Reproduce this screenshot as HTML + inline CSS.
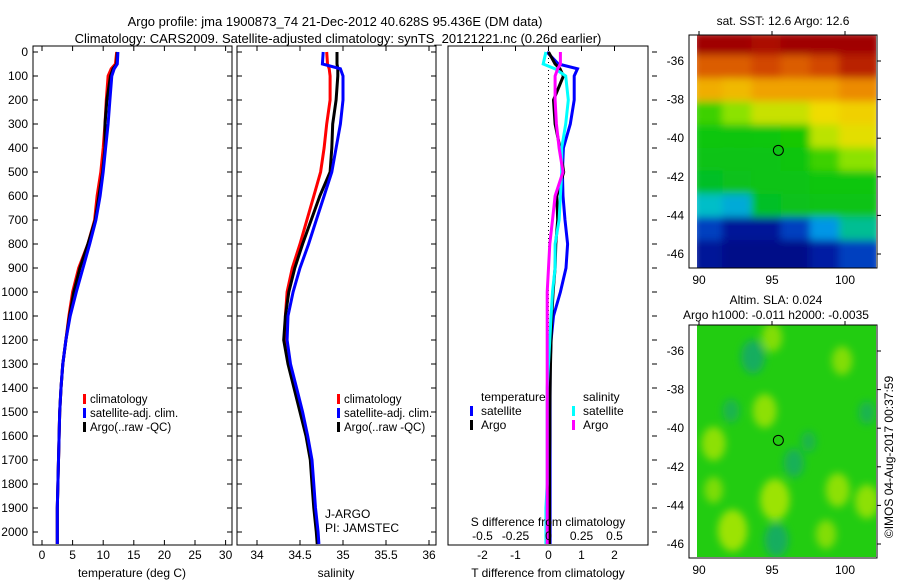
<!DOCTYPE html>
<html><head><meta charset="utf-8"><style>
body{margin:0;background:#fff}
svg{display:block;font-family:"Liberation Sans",sans-serif}
text{fill:#000}
</style></head><body>
<svg id="fig" width="900" height="580" viewBox="0 0 900 580">
<defs>
<clipPath id="c1"><rect x="697" y="35" width="179" height="233"/></clipPath>
<clipPath id="c2"><rect x="697" y="325" width="179" height="232"/></clipPath>
<filter id="bl" x="-10%" y="-10%" width="120%" height="120%"><feGaussianBlur stdDeviation="4"/></filter>
<filter id="bl2" x="-50%" y="-50%" width="200%" height="200%"><feGaussianBlur stdDeviation="4"/></filter>
</defs>
<text x="335" y="26" font-size="13" text-anchor="middle">Argo profile: jma 1900873_74 21-Dec-2012 40.628S 95.436E (DM data)</text>
<text x="338" y="43" font-size="13" text-anchor="middle">Climatology: CARS2009. Satellite-adjusted climatology: synTS_20121221.nc (0.26d earlier)</text>
<g id="root"></g>
</svg>
<script>
const depths=[0,50,70,100,200,300,400,500,600,700,800,900,1000,1100,1200,1300,1400,1500,1600,1700,1800,1900,2000,2050];
const tClim=[12.2,12.0,11.3,10.8,10.5,10.3,10.0,9.6,9.0,8.6,7.5,6.0,5.0,4.4,3.9,3.4,3.1,2.9,2.8,2.7,2.6,2.5,2.5,2.5];
const tSat=[12.4,12.3,11.8,11.4,11.1,10.8,10.4,10.0,9.5,8.8,7.8,6.7,5.6,4.6,3.9,3.4,3.1,2.9,2.8,2.7,2.6,2.5,2.5,2.5];
const tArgo=[12.3,12.2,11.6,11.2,10.6,10.3,10.3,9.9,9.3,8.7,7.5,6.2,5.2,4.5,3.9,3.4,3.1,2.9,2.8,2.7,2.6,2.5,2.5,2.5];
const sClim=[34.81,34.82,34.84,34.85,34.85,34.81,34.78,34.74,34.66,34.58,34.50,34.41,34.35,34.33,34.34,34.38,34.45,34.52,34.58,34.63,34.65,34.67,34.70,34.71];
const sSat=[34.77,34.76,34.97,35.00,35.00,34.97,34.92,34.87,34.78,34.69,34.60,34.50,34.42,34.36,34.35,34.39,34.46,34.53,34.59,34.64,34.66,34.68,34.71,34.72];
const sArgo=[34.93,34.93,34.94,34.94,34.92,34.88,34.87,34.85,34.73,34.63,34.53,34.44,34.37,34.33,34.31,34.36,34.43,34.50,34.57,34.62,34.64,34.66,34.69,34.70];
const dTsat=[-0.05,0.3,0.88,0.78,0.78,0.66,0.45,0.42,0.44,0.5,0.58,0.53,0.36,0.15,0.08,0.05,0.05,0.05,0.05,0.05,0.05,0.05,0.05,0.05];
const dTargo=[0.0,0.2,0.35,0.45,0.15,0.2,0.35,0.46,0.25,0.28,0.22,0.2,0.14,0.1,0.08,0.06,0.05,0.04,0.04,0.03,0.03,0.03,0.03,0.03];
const dSsat=[-0.02,-0.04,0.05,0.13,0.15,0.13,0.10,0.10,0.09,0.08,0.05,0.05,0.03,0.02,0.01,0.0,-0.01,-0.01,-0.01,-0.01,-0.01,-0.02,-0.02,-0.02];
const dSargo=[0.09,0.09,0.07,0.05,0.05,0.06,0.08,0.11,0.05,0.03,0.01,0.0,-0.01,-0.01,-0.01,-0.01,-0.01,-0.01,-0.01,-0.01,-0.01,-0.01,-0.01,-0.01];
const depthTicks=[0,100,200,300,400,500,600,700,800,900,1000,1100,1200,1300,1400,1500,1600,1700,1800,1900,2000];
const tTicks=[0,5,10,15,20,25,30];
const sTicks=[34,34.5,35,35.5,36];
const dTTicks=[-2,-1,0,1,2];
const dSTicks=[-0.5,-0.25,0,0.25,0.5];
const dSLabels=["-0.5","-0.25","0","0.25","0.5"];
const lonTicks=[90,95,100];
const latTicks=[-36,-38,-40,-42,-44,-46];
const sstLats=[-35.4,-36.6,-37.8,-39,-40.2,-41.4,-42.6,-43.8,-45,-46.2];
const sstLons=[91,93,95,97,99,101];
const sstVals=[[16,16,15.8,16,16,16],[15,15,15.2,15,15.2,15.6],[14.3,14.2,14.4,14.4,14.4,14.6],[12.8,13.2,13.6,13.6,13.9,14],[12.3,12.2,12.4,12.6,13.5,13.8],[12,12,12,12.2,12.8,13.2],[11.5,11.8,12,12,12.3,12.4],[10.8,10.5,11.5,11.8,12,12],[9.5,8.8,8.8,9.5,10.2,11],[8.8,8.5,8.5,8.5,9,9.5]];
const slaBlobLon=[93.7,91,94.5,95.2,92.3,95.3,96.5,99.5,101.5,101.5,99.8,98.7,92.2,97.5,91,95];
const slaBlobLat=[-36.3,-40.8,-39.1,-43.7,-45.3,-45.8,-41.8,-43.2,-39.2,-43.8,-36.5,-45.5,-39.1,-40.7,-43.2,-35.3];
const slaBlobVal=[-1,1,1,1.3,1.3,-1,-0.8,1,-0.6,1,0.8,0.8,-0.6,-0.5,0.7,0.8];
const argoLon=95.436, argoLat=-40.628;

const NS='http://www.w3.org/2000/svg';
const root=document.getElementById('root');
function mk(tag,attrs,parent){const e=document.createElementNS(NS,tag);for(const k in attrs)e.setAttribute(k,attrs[k]);(parent||root).appendChild(e);return e;}
function txt(x,y,s,anchor,size,parent){const t=mk('text',{x:x,y:y,'font-size':size||12,'text-anchor':anchor||'middle'},parent);t.textContent=s;return t;}
const Y0=52,PY=0.24;
const yD=d=>Y0+d*PY;
const PTOP=46,PBOT=545;
function frame(x0,x1,name){const r=mk('rect',{x:x0,y:PTOP,width:x1-x0,height:PBOT-PTOP,fill:'none',stroke:'#000','stroke-width':1});


depthTicks.forEach(d=>{mk('line',{x1:x0,x2:x0+5,y1:yD(d),y2:yD(d),stroke:'#000'});mk('line',{x1:x1-5,x2:x1,y1:yD(d),y2:yD(d),stroke:'#000'});});}
function line(xs,xf,color,name,w){const pts=depths.map((d,i)=>xf(xs[i]).toFixed(1)+','+yD(d).toFixed(1)).join(' ');const p=mk('polyline',{points:pts,fill:'none',stroke:color,'stroke-width':w||3});

}
// panel 1
const xT=v=>42+v*6.12;
frame(33,232,'temperature-panel');
depthTicks.forEach(d=>{txt(28,yD(d)+4,String(d),'end',12);});
tTicks.forEach(v=>{mk('line',{x1:xT(v),x2:xT(v),y1:PBOT,y2:PBOT-5,stroke:'#000'});mk('line',{x1:xT(v),x2:xT(v),y1:PTOP,y2:PTOP+5,stroke:'#000'});txt(xT(v),559,String(v));});
line(tClim,xT,'#ff0000','temp-climatology-line');
line(tArgo,xT,'#000000','temp-argo-line');
line(tSat,xT,'#0000ff','temp-satellite-line');
{const t=txt(132,577,'temperature (deg C)');}
function legend3(x,y,pre){[['#ff0000','climatology'],['#0000ff','satellite-adj. clim.'],['#000','Argo(..raw -QC)']].forEach((e,i)=>{const g=mk('g',{});


mk('rect',{x:x,y:y+i*14-9,width:3,height:10,fill:e[0]},g);txt(x+7,y+i*14,e[1],'start',11.5,g);});}
legend3(83,403,'temp');
// panel 2
const xS=v=>257+(v-34)*86;
frame(237,436,'salinity-panel');
sTicks.forEach(v=>{mk('line',{x1:xS(v),x2:xS(v),y1:PBOT,y2:PBOT-5,stroke:'#000'});mk('line',{x1:xS(v),x2:xS(v),y1:PTOP,y2:PTOP+5,stroke:'#000'});txt(xS(v),559,String(v));});
line(sClim,xS,'#ff0000','sal-climatology-line');
line(sArgo,xS,'#000000','sal-argo-line');
line(sSat,xS,'#0000ff','sal-satellite-line');
{const t=txt(336,577,'salinity');}
legend3(337,403,'sal');
txt(325,518,'J-ARGO','start',12);txt(325,532,'PI: JAMSTEC','start',12);
// panel 3
const xDT=v=>548.5+v*33, xDS=v=>548.5+v*132;
mk('rect',{x:448,y:PTOP,width:200,height:PBOT-PTOP,fill:'none',stroke:'#000'});
depthTicks.forEach(d=>{mk('line',{x1:652,x2:657,y1:yD(d),y2:yD(d),stroke:'#000'});});
mk('line',{x1:548.5,x2:548.5,y1:PTOP,y2:PBOT,stroke:'#000','stroke-dasharray':'1,3'});
dTTicks.forEach(v=>{mk('line',{x1:xDT(v),x2:xDT(v),y1:PTOP,y2:PTOP+5,stroke:'#000'});txt(xDT(v),559,String(v));});
line(dTsat,xDT,'#0000ff','tdiff-satellite-line');
line(dTargo,xDT,'#000000','tdiff-argo-line');
line(dSsat,xDS,'#00ffff','sdiff-satellite-line');
line(dSargo,xDS,'#ff00ff','sdiff-argo-line');
dSTicks.forEach((v,i)=>txt(xDS(v),540,dSLabels[i]));
txt(548,526,'S difference from climatology');
{const t=txt(548,577,'T difference from climatology');}
txt(481,401,'temperature','start',12);txt(583,401,'salinity','start',12);
[['#0000ff','satellite',470],['#000','Argo',470],['#00ffff','satellite',572],['#ff00ff','Argo',572]].forEach((e,i)=>{const yy=415+(i%2)*14;const g=mk('g',{});


mk('rect',{x:e[2],y:yy-9,width:3,height:10,fill:e[0]},g);txt(e[2]+11,yy,e[1],'start',12,g);});
// maps
const xL=l=>699+(l-90)*14.6;
const cmV=[8.4,9.3,10.2,10.8,11.4,12.6,13.3,13.9,14.5,15.2,16];
const cmC=[[0,10,130],[0,40,180],[0,150,230],[0,190,200],[0,190,40],[20,200,0],[160,230,0],[240,220,0],[240,150,0],[210,70,0],[160,0,0]];
function cmap(v){if(v<=cmV[0])return `rgb(${cmC[0]})`;for(let i=1;i<cmV.length;i++){if(v<=cmV[i]){const f=(v-cmV[i-1])/(cmV[i]-cmV[i-1]);const c=cmC[i-1].map((a,k)=>Math.round(a+(cmC[i][k]-a)*f));return `rgb(${c})`;}}return `rgb(${cmC[cmC.length-1]})`;}
function mapAxes(top,y36,name){const yL=la=>y36+(-36-la)*19.3;
const r=mk('rect',{x:689,y:top,width:188,height:(yL(-46)+14)-top,fill:'none',stroke:'#000'});


latTicks.forEach(la=>{txt(684,yL(la)+4,String(la),'end',12);mk('line',{x1:877,x2:881,y1:yL(la),y2:yL(la),stroke:'#000'});});
lonTicks.forEach(lo=>{txt(xL(lo),yL(-46)+30,String(lo));mk('line',{x1:xL(lo),x2:xL(lo),y1:top-4,y2:top,stroke:'#000'});});
return yL;}
// SST map
{const yL=la=>61+(-36-la)*19.3;
const g=mk('g',{'clip-path':'url(#c1)'});


const gi=mk('g',{filter:'url(#bl)'},g);
sstLats.forEach((la,i)=>sstLons.forEach((lo,j)=>{const c=mk('rect',{x:xL(lo-1)-6,y:yL(la+0.6)-6,width:14.6*2+12,height:19.3*1.2+12,fill:cmap(sstVals[i][j])},gi);

}));
mapAxes(35,61,'sst-map-frame');
const c=mk('circle',{cx:xL(argoLon),cy:yL(argoLat),r:5,fill:'none',stroke:'#000'});


txt(783,25,'sat. SST: 12.6 Argo: 12.6');}
// SLA map
{const yL=la=>351+(-36-la)*19.3;
const g=mk('g',{'clip-path':'url(#c2)'});


mk('rect',{x:697,y:325,width:179,height:232,fill:'#22cc11'},g);
const gi=mk('g',{filter:'url(#bl2)'},g);
slaBlobLon.forEach((lo,i)=>{const v=slaBlobVal[i];const col=v>0?'#bbe800':'#10a080';const b=mk('ellipse',{cx:xL(lo),cy:yL(slaBlobLat[i]),rx:9*Math.abs(v)+3,ry:13*Math.abs(v)+4,fill:col,opacity:Math.min(0.9,0.35+Math.abs(v)*0.35)},gi);

});
mapAxes(325,351,'sla-map-frame');
const c=mk('circle',{cx:xL(argoLon),cy:yL(argoLat),r:5,fill:'none',stroke:'#000'});


txt(776,304,'Altim. SLA: 0.024');txt(776,319,'Argo h1000: -0.011 h2000: -0.0035');
const r=txt(0,0,'\u00a9IMOS 04-Aug-2017 00:37:59');r.setAttribute('transform','translate(893,457) rotate(-90)');}
</script>
</body></html>
